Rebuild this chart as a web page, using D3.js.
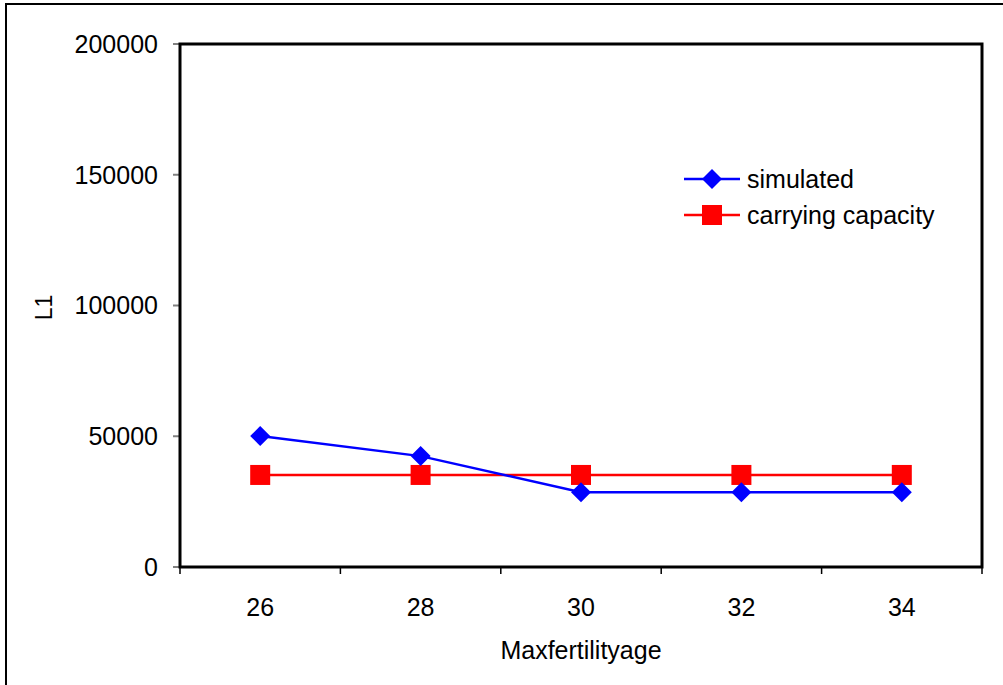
<!DOCTYPE html>
<html>
<head>
<meta charset="utf-8">
<script src="https://cdn.jsdelivr.net/npm/d3@7"></script>
<style>
  body { margin: 0; background: #fff; }
  text { font-family: "Liberation Sans", Arial, sans-serif; }
</style>
</head>
<body>
<div id="chart"></div>
<script>
const categories = ['26', '28', '30', '32', '34'];
const simulated = [50100, 42400, 28600, 28600, 28600];
const capacity = [35200, 35200, 35200, 35200, 35200];
const yTicks = [0, 50000, 100000, 150000, 200000];

const width = 1003, height = 685;
const margin = {top: 44, right: 21, bottom: 118, left: 180};
const fontSize = 25;

const svg = d3.select('#chart').append('svg')
  .attr('width', width)
  .attr('height', height);

// outer frame (right/bottom clipped off like the reference)
svg.append('rect')
  .attr('x', 6).attr('y', 4)
  .attr('width', width + 20).attr('height', height + 20)
  .attr('fill', 'none').attr('stroke', '#000').attr('stroke-width', 2);

const plotW = width - margin.left - margin.right;
const plotH = height - margin.top - margin.bottom;

const g = svg.append('g')
  .attr('transform', `translate(${margin.left},${margin.top})`);

const x = d3.scaleBand().domain(categories).range([0, plotW]);
const y = d3.scaleLinear().domain([0, 200000]).range([plotH, 0]);
const cx = d => x(d) + x.bandwidth() / 2;

// y ticks
g.selectAll('.ytick').data(yTicks).join('line')
  .attr('x1', -7).attr('x2', 0)
  .attr('y1', d => y(d)).attr('y2', d => y(d))
  .attr('stroke', '#808080').attr('stroke-width', 2);
g.selectAll('.ylab').data(yTicks).join('text')
  .attr('x', -22).attr('y', d => y(d))
  .attr('dy', '0.35em')
  .attr('text-anchor', 'end')
  .attr('font-size', fontSize)
  .text(d => d);

// x ticks at band boundaries
const bounds = categories.map(c => x(c)).concat([plotW]);
g.selectAll('.xtick').data(bounds).join('line')
  .attr('x1', d => d).attr('x2', d => d)
  .attr('y1', plotH).attr('y2', plotH + 7)
  .attr('stroke', '#000').attr('stroke-width', 1.5);
g.selectAll('.xlab').data(categories).join('text')
  .attr('x', cx).attr('y', plotH + 40)
  .attr('dy', '0.35em')
  .attr('text-anchor', 'middle')
  .attr('font-size', fontSize)
  .text(d => d);

// plot box
g.append('rect')
  .attr('width', plotW).attr('height', plotH)
  .attr('fill', 'none').attr('stroke', '#000').attr('stroke-width', 3);

// axis titles
g.append('text')
  .attr('x', plotW / 2).attr('y', plotH + 83)
  .attr('dy', '0.35em')
  .attr('text-anchor', 'middle')
  .attr('font-size', fontSize)
  .text('Maxfertilityage');
svg.append('text')
  .attr('transform', `translate(44,${margin.top + plotH / 2 + 2}) rotate(-90)`)
  .attr('text-anchor', 'middle')
  .attr('dy', '0.35em')
  .attr('font-size', 23)
  .text('L1');

const line = d3.line()
  .x((d, i) => cx(categories[i]))
  .y(d => y(d));

const diamond = s => `M0,${-s}L${s},0L0,${s}L${-s},0Z`;

// carrying capacity
g.append('path').datum(capacity)
  .attr('d', line).attr('fill', 'none')
  .attr('stroke', '#ff0000').attr('stroke-width', 2.5);
g.selectAll('.sq').data(capacity).join('rect')
  .attr('x', (d, i) => cx(categories[i]) - 10)
  .attr('y', d => y(d) - 10)
  .attr('width', 20).attr('height', 20)
  .attr('fill', '#ff0000');

// simulated
g.append('path').datum(simulated)
  .attr('d', line).attr('fill', 'none')
  .attr('stroke', '#0000ff').attr('stroke-width', 2.5);
g.selectAll('.dm').data(simulated).join('path')
  .attr('transform', (d, i) => `translate(${cx(categories[i])},${y(d)})`)
  .attr('d', diamond(10))
  .attr('fill', '#0000ff');

// legend
const legend = [
  {name: 'simulated', color: '#0000ff', shape: 'diamond'},
  {name: 'carrying capacity', color: '#ff0000', shape: 'square'}
];
const lg = svg.append('g').attr('transform', 'translate(684,179)');
legend.forEach((l, i) => {
  const row = lg.append('g').attr('transform', `translate(0,${i * 36})`);
  row.append('line').attr('x1', 0).attr('x2', 56)
    .attr('stroke', l.color).attr('stroke-width', 2.5);
  if (l.shape === 'diamond') {
    row.append('path').attr('transform', 'translate(28,0)')
      .attr('d', diamond(10)).attr('fill', l.color);
  } else {
    row.append('rect').attr('x', 18).attr('y', -10)
      .attr('width', 20).attr('height', 20).attr('fill', l.color);
  }
  row.append('text').attr('x', 63).attr('dy', '0.35em')
    .attr('font-size', fontSize).text(l.name);
});
</script>
</body>
</html>
